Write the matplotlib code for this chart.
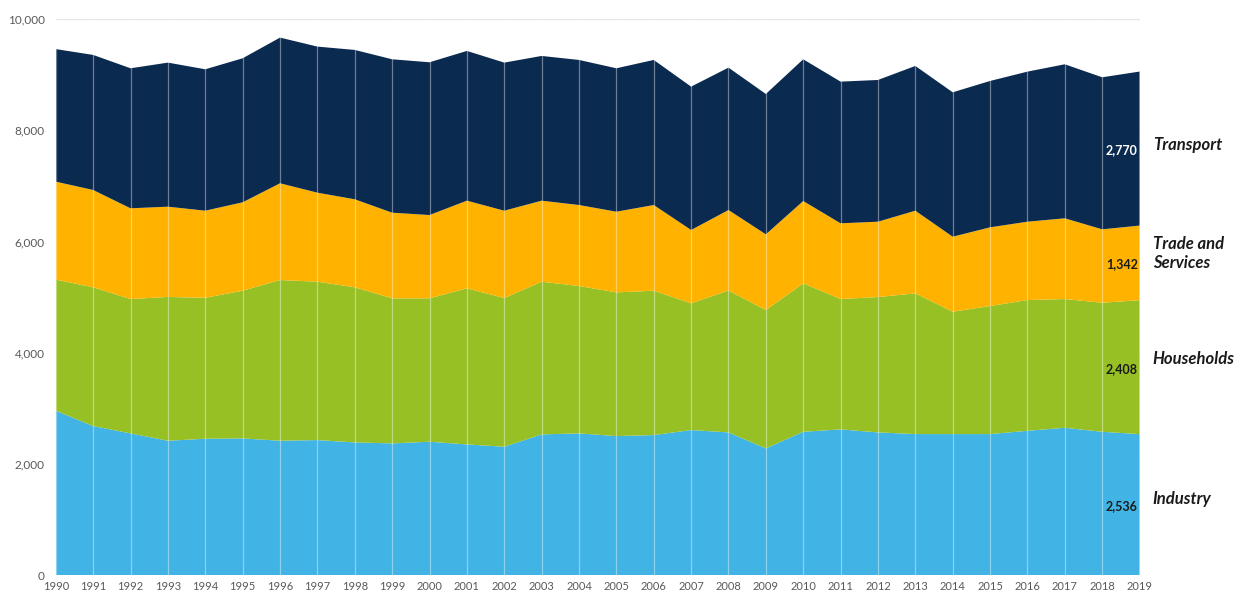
import matplotlib
matplotlib.use("Agg")
import matplotlib.pyplot as plt
import numpy as np

years = list(range(1990, 2020))
industry = [2956, 2681, 2549, 2417, 2453, 2459, 2417, 2429, 2387, 2369,
            2399, 2351, 2309, 2531, 2549, 2501, 2519, 2609, 2567, 2279,
            2578, 2621, 2567, 2537, 2537, 2537, 2596, 2650, 2578, 2536]
households = [2359, 2495, 2416, 2586, 2535, 2656, 2890, 2848, 2789, 2609,
              2579, 2806, 2674, 2746, 2650, 2584, 2596, 2279, 2551, 2488,
              2669, 2344, 2434, 2530, 2200, 2302, 2351, 2315, 2321, 2408]
trade = [1761, 1750, 1632, 1623, 1566, 1590, 1740, 1601, 1583, 1540,
         1498, 1577, 1571, 1457, 1457, 1451, 1541, 1319, 1448, 1362,
         1481, 1362, 1355, 1487, 1349, 1416, 1409, 1452, 1320, 1342]
transport = [2384, 2429, 2518, 2591, 2543, 2590, 2620, 2627, 2686, 2759,
             2747, 2693, 2663, 2603, 2609, 2579, 2609, 2578, 2561, 2524,
             2549, 2548, 2549, 2603, 2597, 2632, 2699, 2770, 2734, 2770]
series_names = ["Industry", "Households", "Trade and\nServices", "Transport"]
colors = ["#41B3E4", "#97C024", "#FFB300", "#0B2A50"]
label_colors = ["#1a1a1a", "#1a1a1a", "#1a1a1a", "#ffffff"]

plt.rcParams['font.family'] = ['Lato', 'DejaVu Sans']

fig = plt.figure(figsize=(12.4, 5.96), dpi=100)
ax = fig.add_axes([0.045, 0.035, 0.874, 0.933])

data = [industry, households, trade, transport]
ax.stackplot(years, *data, colors=colors, linewidth=0, zorder=2)

# vertical white separators
for y in years:
    ax.axvline(y, color="white", alpha=0.4, linewidth=0.9, zorder=3)

ax.set_xlim(1990, 2019)
ax.set_ylim(0, 10000)
ax.set_yticks(range(0, 10001, 2000))
ax.set_yticklabels([f"{v:,}" for v in range(0, 10001, 2000)])
ax.set_xticks(years)
ax.set_xticklabels([str(y) for y in years])
ax.yaxis.grid(True, color="#e6e6e6", linewidth=1, zorder=0)
ax.set_axisbelow(True)
for s in ax.spines.values():
    s.set_visible(False)
ax.tick_params(axis="both", length=0, colors="#595959")
ax.tick_params(axis="y", labelsize=8.5, pad=8)
ax.tick_params(axis="x", labelsize=8, pad=4)

# end labels
cum = 0
name_offsets = [40, 90, 114, 0]
for vals, name, lc, off in zip(data, series_names, label_colors, name_offsets):
    last = vals[-1]
    mid = cum + last / 2
    ax.text(2018.95, mid - 30, f"{last:,}", ha="right", va="center",
            fontsize=9, fontweight="bold", color=lc, zorder=4)
    ax.text(2019.35, mid + off + 60, name, ha="left", va="center",
            fontsize=12, fontweight="bold", style="italic", color="#1a1a1a",
            clip_on=False, linespacing=1.2)
    cum += last

fig.savefig("out.png", dpi=100)
